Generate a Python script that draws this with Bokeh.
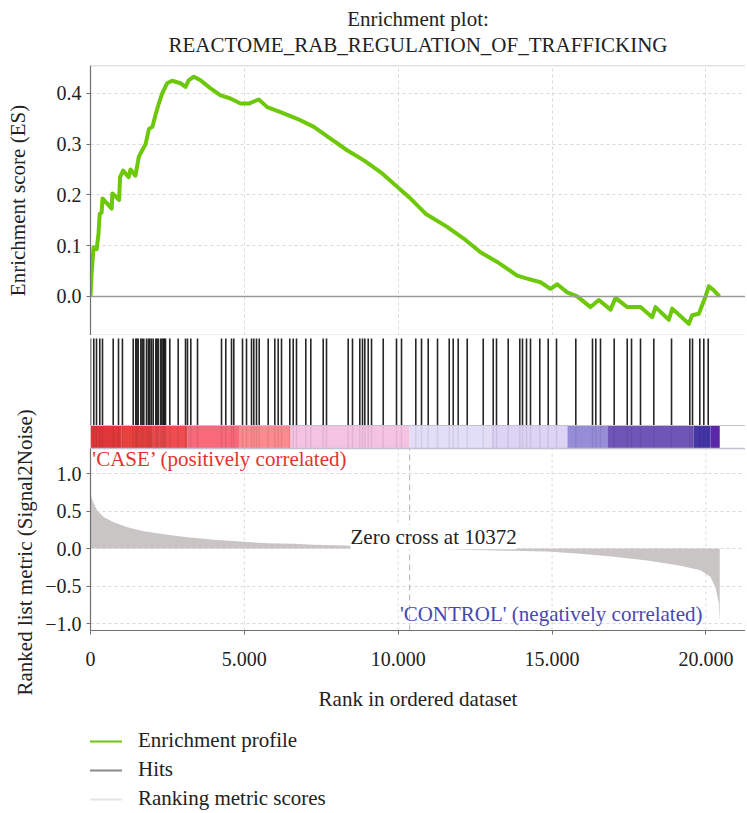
from bokeh.plotting import figure
from bokeh.layouts import column
from bokeh.models import Range1d, FixedTicker, Span, Legend, LegendItem, Label, Title
from bokeh.core.properties import value
from bokeh.embed import file_html
from bokeh.resources import INLINE

# ---------------- data ----------------
title_lines = ["Enrichment plot:", "REACTOME_RAB_REGULATION_OF_TRAFFICKING"]

es_rank = [0, 40, 100, 200, 260, 300, 360, 390, 690, 710, 930, 960, 1060, 1240, 1300,
           1460, 1570, 1680, 1790, 1900, 2010, 2110, 2220, 2330, 2490, 2650, 2925, 3090,
           3195, 3360, 3575, 3900, 4225, 4550, 4875, 5145, 5470, 5745, 6175, 6720, 7260,
           7800, 8340, 8885, 9425, 10345, 10890, 11590, 12130, 12675, 13218, 13868, 14193,
           14625, 14950, 15168, 15493, 15818, 16250, 16520, 16900, 17063, 17443, 17875,
           18255, 18363, 18795, 18905, 19445, 19555, 19770, 19988, 20095, 20258, 20440]
es_value = [0.0, 0.05, 0.097, 0.093, 0.124, 0.163, 0.165, 0.193, 0.173, 0.203, 0.19, 0.235,
            0.248, 0.235, 0.25, 0.238, 0.275, 0.288, 0.30, 0.33, 0.334, 0.357, 0.38, 0.40,
            0.42, 0.425, 0.42, 0.413, 0.426, 0.433, 0.426, 0.41, 0.396, 0.39, 0.38, 0.38,
            0.388, 0.373, 0.363, 0.35, 0.334, 0.311, 0.288, 0.268, 0.245, 0.196, 0.163,
            0.137, 0.114, 0.087, 0.068, 0.041, 0.035, 0.028, 0.015, 0.024, 0.008, 0.0,
            -0.021, -0.007, -0.026, -0.003, -0.021, -0.021, -0.041, -0.021, -0.046, -0.024,
            -0.054, -0.037, -0.034, 0.0, 0.02, 0.012, 0.0]

hit_ranks = [0, 107, 195, 302, 390, 738, 910, 1038, 1388, 1472, 1510, 1550, 1635, 1680, 1732,
             1820, 1880, 1927, 1980, 2038, 2122, 2160, 2200, 2275, 2320, 2363, 2400, 2438,
             2577, 2850, 3088, 3152, 3260, 3478, 4258, 4397, 4583, 4657, 4940, 5070, 5233,
             5307, 5395, 5483, 5775, 5990, 6100, 6208, 6477, 6588, 6695, 6997, 7160, 7563,
             7670, 8375, 8515, 8752, 8840, 8915, 9025, 9133, 9513, 9945, 10108, 10572,
             10758, 10975, 11278, 11658, 11788, 11950, 12243, 12763, 13088, 13195, 13575,
             13952, 14040, 14170, 14300, 14602, 14875, 15145, 15772, 16315, 16422, 16575,
             17020, 17443, 17583, 17875, 18307, 18883, 19477, 19565, 19802, 19932, 20075]

bar_start = [0, 1000, 2000, 3150, 4850, 6500, 10372, 13000, 15500, 16800, 19600, 20150]
bar_end = [1000, 2000, 3150, 4850, 6500, 10372, 13000, 15500, 16800, 19600, 20150, 20450]
bar_color = ["#E0383A", "#E8423F", "#EE4C4E", "#F8697B", "#FD8A8F", "#F5C3E2",
             "#E3DEF7", "#DCD4F4", "#968DD8", "#6F55B8", "#4436A6", "#5A27A8"]

metric_rank = [0, 20, 107, 218, 433, 758, 1192, 1733, 2492, 3142, 4008, 4875, 5742, 6608,
               7258, 8288, 9300, 10372, 11500, 12458, 13600, 14842, 15925, 17008, 18092,
               19175, 19825, 20150, 20312, 20420, 20440, 20450]
metric_value = [0.75, 0.70, 0.596, 0.507, 0.417, 0.35, 0.284, 0.231, 0.182, 0.151, 0.116,
                0.093, 0.071, 0.062, 0.049, 0.04, 0.02, 0.0, -0.005, -0.02, -0.03, -0.04,
                -0.07, -0.11, -0.16, -0.23, -0.29, -0.38, -0.52, -0.73, -0.92, -0.97]

zero_cross = 10372
x_ticks = [0, 5000, 10000, 15000, 20000]
x_tick_labels = ["0", "5.000", "10.000", "15.000", "20.000"]
es_ticks = [0.0, 0.1, 0.2, 0.3, 0.4]
es_tick_labels = ["0.0", "0.1", "0.2", "0.3", "0.4"]
metric_ticks = [-1.0, -0.5, 0.0, 0.5, 1.0]
metric_tick_labels = ["\u22121.0", "\u22120.5", "0.0", "0.5", "1.0"]
legend_labels = ["Enrichment profile", "Hits", "Ranking metric scores"]

# ---------------- style ----------------
SERIF = "Liberation Serif"
W = 745
LEFT = 90
GREEN = "#6DC80A"
GRID = "#D9D9D9"
AXIS = "#707070"
TXT = "#222222"
FS = "21px"
TICK_FS = "20px"

# y layout of the lower figure (metric panel + hits/colour bar on top of it)
M_LO, M_HI = -1.093, 1.333        # metric panel extent
BAR_TOP = 1.64                    # colour bar top
HIT_TOP = 2.80                    # hit lines top
BC_TOP = 2.84

x_range = Range1d(0, 21287)


def base(height, y_range, top=0, bottom=0, left=LEFT):
    p = figure(width=W, height=height, x_range=x_range, y_range=y_range,
               output_backend="svg", toolbar_location=None,
               min_border_left=left, min_border_right=0,
               min_border_top=top, min_border_bottom=bottom)
    p.outline_line_color = None
    p.background_fill_color = "white"
    p.border_fill_color = "white"
    return p


def bare(height, left=LEFT):
    p = figure(width=W, height=height, x_range=Range1d(0, 1), y_range=Range1d(0, 1),
               output_backend="svg", toolbar_location=None,
               x_axis_location=None, y_axis_location=None,
               min_border_left=left, min_border_right=0,
               min_border_top=0, min_border_bottom=0)
    p.title.visible = False
    p.grid.visible = False
    p.outline_line_color = None
    return p


def style_axis(ax):
    ax.axis_line_color = AXIS
    ax.axis_line_width = 1.2
    ax.major_tick_line_color = AXIS
    ax.major_tick_out = 4
    ax.major_tick_in = 0
    ax.minor_tick_line_color = None
    ax.major_label_text_font = SERIF
    ax.major_label_text_font_size = TICK_FS
    ax.major_label_text_color = TXT
    ax.axis_label_text_font = SERIF
    ax.axis_label_text_font_size = FS
    ax.axis_label_text_font_style = "normal"
    ax.axis_label_text_color = TXT


def style_grid(g):
    g.grid_line_color = GRID
    g.grid_line_dash = "3 3"
    g.grid_line_width = 1


# ---- title strip (frame aligned with the panels below) ----
pT = bare(65)
pT.text(x=[0.5, 0.5], y=[0.72, 0.32], text=title_lines, text_font=value(SERIF),
        text_font_size="21px", text_color=TXT, text_align="center",
        text_baseline="middle")

# ---- panel A: enrichment score ----
pA = base(270, Range1d(-0.077, 0.455))
pA.title.visible = False
pA.xaxis.visible = False
pA.xaxis.ticker = FixedTicker(ticks=x_ticks)
pA.yaxis.ticker = FixedTicker(ticks=es_ticks)
pA.yaxis.major_label_overrides = dict(zip(es_ticks, es_tick_labels))
pA.yaxis.axis_label = "Enrichment score (ES)"
style_axis(pA.yaxis[0])
pA.yaxis.axis_label_standoff = 24
style_grid(pA.xgrid[0])
style_grid(pA.ygrid[0])
pA.add_layout(Span(location=0, dimension="width", line_color="#9A9A9A", line_width=1.5))
pA.add_layout(Span(location=0.455, dimension="width", line_color="#C4C4C4", line_width=1.5))
pA.add_layout(Span(location=-0.077, dimension="width", line_color="#C4C4C4", line_width=1.5))
pA.line(es_rank, es_value, line_color=GREEN, line_width=4, line_join="round")

# ---- panel BC: hits, colour bar and ranked list metric ----
pC = base(385, Range1d(M_LO, BC_TOP), bottom=90)
pC.title.visible = False
pC.xgrid.visible = False
pC.xaxis.ticker = FixedTicker(ticks=x_ticks)
pC.xaxis.major_label_overrides = dict(zip(x_ticks, x_tick_labels))
pC.xaxis.axis_label = "Rank in ordered dataset"
pC.yaxis.ticker = FixedTicker(ticks=metric_ticks)
pC.yaxis.major_label_overrides = dict(zip(metric_ticks, metric_tick_labels))
pC.yaxis.bounds = (M_LO, M_HI)
style_axis(pC.xaxis[0])
style_axis(pC.yaxis[0])
pC.xaxis.major_label_standoff = 17
pC.xaxis.axis_label_standoff = 18
pC.add_layout(Title(text="Ranked list metric (Signal2Noise)", align="left", offset=-65,
                    standoff=12, text_font=SERIF, text_font_size=FS,
                    text_font_style="normal", text_color=TXT), "left")
style_grid(pC.ygrid[0])
# vertical grid only across the metric panel
pC.segment(x0=x_ticks, y0=M_LO, x1=x_ticks, y1=M_HI, line_color=GRID,
           line_dash="3 3", line_width=1)

# hits + colour bar
pC.quad(left=bar_start, right=bar_end, bottom=M_HI, top=BAR_TOP, fill_color=bar_color,
        line_color=None)
pC.segment(x0=hit_ranks, y0=M_HI, x1=hit_ranks, y1=BAR_TOP, line_color="#000000",
           line_alpha=0.08, line_width=1.5)
pC.segment(x0=hit_ranks, y0=BAR_TOP, x1=hit_ranks, y1=HIT_TOP, line_color="#000000",
           line_alpha=0.85, line_width=1.6)
pC.add_layout(Span(location=BAR_TOP, dimension="width", line_color="#C8C0D0", line_width=1.2))
pC.add_layout(Span(location=M_HI, dimension="width", line_color="#C8C0D0", line_width=1.5))

# ranked metric
pC.varea(x=metric_rank, y1=0, y2=metric_value, fill_color="#C9C5C5")
pC.segment(x0=[zero_cross], y0=[M_LO], x1=[zero_cross], y1=[M_HI], line_color="#B0B0B0",
           line_dash="6 4", line_width=1)
pC.add_layout(Label(x=8450, y=0.15, text=f"Zero cross at {zero_cross}",
                    text_font=SERIF, text_font_size=FS, text_color=TXT,
                    text_baseline="middle", text_align="left",
                    background_fill_color="white"))
pC.text(x=[60], y=[1.2], text=["'CASE\u2019 (positively correlated)"],
        text_font=value(SERIF), text_font_size=FS, text_color="#E3332F",
        text_align="left", text_baseline="middle")
pC.text(x=[19890], y=[-0.867], text=["'CONTROL' (negatively correlated)"],
        text_font=value(SERIF), text_font_size=FS, text_color="#4848B4",
        text_align="right", text_baseline="middle")

# ---- panel D: legend ----
pD = bare(91)
off = [-5, -4]
r1 = pD.line(x=off, y=off, line_color=GREEN, line_width=2)
r2 = pD.line(x=off, y=off, line_color="#8A8A8A", line_width=2)
r3 = pD.line(x=off, y=off, line_color="#E6E6E6", line_width=2)
legend = Legend(items=[LegendItem(label=legend_labels[0], renderers=[r1]),
                       LegendItem(label=legend_labels[1], renderers=[r2]),
                       LegendItem(label=legend_labels[2], renderers=[r3])],
                location=(-2, 0), margin=0, padding=0, spacing=4,
                glyph_width=34, glyph_height=20, label_height=20, label_standoff=16,
                label_text_font=SERIF, label_text_font_size=FS,
                label_text_color=TXT, border_line_color=None,
                background_fill_alpha=0)
pD.add_layout(legend, "center")

layout = column(pT, pA, pC, pD, spacing=0)
open("out.html", "w").write(file_html(layout, INLINE))
